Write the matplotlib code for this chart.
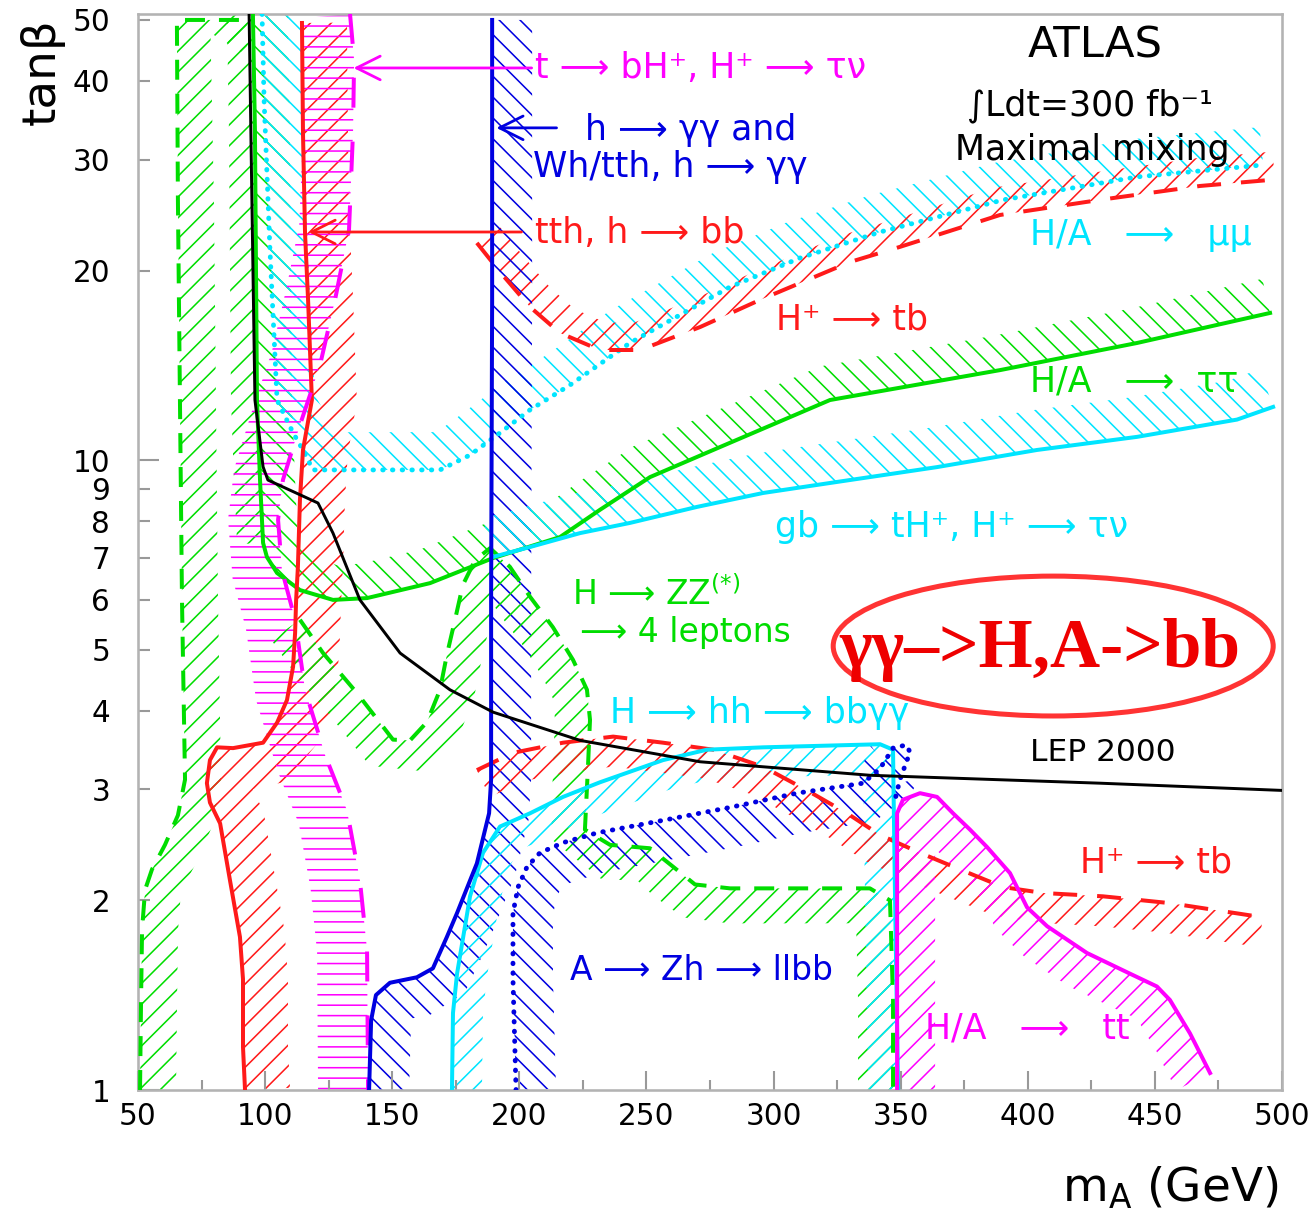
import numpy as np
import matplotlib.pyplot as plt
from matplotlib.patches import Polygon, Ellipse

plt.rcParams['font.family'] = ['DejaVu Sans']
plt.rcParams['mathtext.fontset'] = 'dejavusans'
plt.rcParams['hatch.linewidth'] = 0.9

GREEN = '#00dd00'
CYAN = '#00e5ff'
RED = '#ff1a1a'
MAGENTA = '#ff00ff'
BLUE = '#0000e0'

# all curves: m_A (GeV), tan(beta)
lep_x = [93.7, 94.8, 96.0, 99.2, 101.1, 120.8, 126.7, 137.3, 153.1, 172.7, 189.7, 223.9, 271.1, 338.0, 428.4, 500.0]
lep_y = [51.1, 25.9, 12.46, 9.76, 9.30, 8.55, 7.66, 6.0, 4.94, 4.32, 3.98, 3.59, 3.32, 3.16, 3.07, 2.99]

zz_left_x = [50.8, 51.2, 51.6, 52.8, 55.5, 60.6, 65.7, 68.5, 67.3, 66.5, 65.7, 65.3, 92.9]
zz_left_y = [1.0, 1.39, 1.80, 2.08, 2.24, 2.45, 2.73, 3.11, 6.0, 12.46, 25.9, 50.0, 50.0]

tautau_x = [95.2, 96.0, 96.8, 98.0, 99.2, 100.7, 104.7, 113.7, 126.7, 140.1, 164.9, 189.6, 216.0,
            231.7, 251.4, 278.9, 322.2, 389.1, 443.0, 495.3]
tautau_y = [51.1, 33.4, 12.46, 9.30, 7.39, 7.02, 6.62, 6.22, 6.0, 6.04, 6.38, 6.99, 7.55,
            8.34, 9.40, 10.49, 12.46, 13.9, 15.35, 17.13]

mumu_x = [98.8, 99.6, 101.9, 104.7, 111.0, 114.9, 118.8, 168.8, 180.6, 192.4, 204.2, 219.9, 243.5,
          282.9, 310.4, 341.9, 390.3, 443.0, 492.6]
mumu_y = [51.1, 37.3, 21.6, 12.46, 11.05, 10.38, 9.65, 9.65, 10.19, 11.05, 12.02, 13.16, 15.35,
          18.84, 20.94, 23.03, 25.9, 28.17, 29.43]

hptb_up_x = [183.3, 192.4, 204.2, 216.0, 231.7, 247.5, 271.1, 294.7, 330.1, 349.7, 389.1, 428.4, 467.7, 497.2]
hptb_up_y = [22.13, 19.9, 17.51, 15.92, 14.96, 14.96, 16.27, 17.97, 20.64, 21.81, 24.51, 25.9, 27.25, 27.9]

gg_x = [189.3, 189.3, 188.9, 188.9, 188.1, 183.3, 175.5, 171.5, 166.0, 159.7, 149.1, 143.6, 141.7, 140.9]
gg_y = [50.0, 17.97, 6.0, 3.11, 2.75, 2.29, 1.91, 1.75, 1.56, 1.51, 1.48, 1.415, 1.29, 1.0]

tth_x = [114.5, 114.9, 115.7, 116.9, 118.4, 114.9, 113.7, 112.9, 112.2, 111.8, 111.0, 108.6, 104.7,
         99.2, 87.4, 81.1, 78.3, 77.1, 78.3, 82.3, 86.2, 90.1, 91.3, 91.3, 92.1]
tth_y = [49.45, 33.07, 22.95, 17.97, 12.46, 10.38, 8.65, 6.77, 6.0, 5.32, 4.70, 4.16, 3.83,
         3.56, 3.49, 3.50, 3.34, 3.07, 2.86, 2.65, 2.15, 1.75, 1.50, 1.17, 1.0]

tbh_x = [133.4, 135.0, 134.6, 133.0, 127.5, 121.6, 113.7, 107.0, 105.1, 106.6, 111.8, 115.7, 123.6,
         132.2, 137.3, 140.1, 140.5]
tbh_y = [51.1, 43.2, 33.4, 23.2, 17.97, 14.16, 11.37, 9.30, 8.04, 6.69, 5.58, 4.32, 3.40,
         2.78, 2.15, 1.67, 1.0]

gb_x = [189.6, 204.2, 223.9, 243.5, 269.9, 295.9, 322.2, 364.3, 403.6, 443.0, 482.3, 496.5]
gb_y = [7.02, 7.28, 7.66, 7.95, 8.43, 8.87, 9.20, 9.75, 10.38, 10.89, 11.6, 12.15]

zz_x = [113.7, 122.8, 136.1, 150.3, 157.0, 163.7, 168.8, 171.5, 174.7, 177.8, 182.6, 188.5, 196.3,
        204.2, 213.2, 221.1, 226.6, 227.8, 227.0, 225.8, 235.7, 251.4, 261.2, 269.1, 282.9, 337.9,
        345.8, 347.0, 347.0]
zz_y = [5.58, 4.94, 4.27, 3.60, 3.59, 3.84, 4.32, 4.91, 5.58, 6.34, 6.94, 7.25, 6.77,
        6.07, 5.43, 4.82, 4.32, 3.87, 3.26, 2.59, 2.45, 2.42, 2.25, 2.12, 2.09, 2.09,
        2.0, 1.39, 1.0]

hh_x = [173.5, 173.9, 175.5, 180.6, 185.7, 192.4, 204.2, 217.2, 231.7, 256.5, 273.8, 295.9, 341.9,
        347.0, 347.2, 347.8, 349.0]
hh_y = [1.0, 1.325, 1.53, 2.03, 2.38, 2.62, 2.75, 2.92, 3.08, 3.34, 3.47, 3.50, 3.54,
        3.47, 2.99, 2.0, 1.0]

zh_x = [198.7, 197.5, 197.5, 199.5, 203.0, 208.1, 217.2, 230.6, 256.5, 282.9, 309.2, 335.2, 341.9,
        347.0, 352.1, 353.7, 349.7, 347.8]
zh_y = [1.0, 1.50, 1.91, 2.10, 2.26, 2.38, 2.47, 2.56, 2.68, 2.81, 2.96, 3.07, 3.24,
        3.49, 3.53, 3.44, 3.11, 2.89]

hptb_lo_x = [183.3, 197.5, 217.2, 236.9, 256.5, 276.2, 295.9, 313.2, 328.9, 341.9, 357.6, 373.3,
             390.3, 406.0, 429.6, 456.0, 492.5]
hptb_lo_y = [3.22, 3.43, 3.56, 3.64, 3.56, 3.47, 3.26, 2.99, 2.75, 2.54, 2.38, 2.24,
             2.10, 2.055, 2.03, 1.98, 1.88]

tt_x = [348.6, 348.6, 350.9, 357.6, 364.3, 370.6, 377.3, 384.0, 393.0, 399.7, 407.6, 423.3, 440.2,
        450.8, 455.9, 463.8, 471.7]
tt_y = [1.0, 2.75, 2.89, 2.96, 2.92, 2.75, 2.59, 2.43, 2.21, 1.95, 1.82, 1.65, 1.53,
        1.46, 1.39, 1.23, 1.064]

fig = plt.figure(figsize=(1312 / 125, 1217 / 125), dpi=125)
ax = fig.add_axes([138 / 1312, 1 - 1090 / 1217, 1144 / 1312, 1076 / 1217])
ax.set_yscale('log')
ax.set_xlim(50, 500)
ax.set_ylim(1, 51.1)


def band(xs, ys, width, hatch, color, side=1):
    # hatched strip of given pixel width along one side of a curve
    pts = ax.transData.transform(np.column_stack([xs, ys]))
    d = np.gradient(pts, axis=0)
    n = np.column_stack([d[:, 1], -d[:, 0]])
    n /= np.hypot(n[:, 0], n[:, 1])[:, None]
    off = pts + side * width * n
    poly = ax.transData.inverted().transform(np.vstack([pts, off[::-1]]))
    ax.add_patch(Polygon(poly, closed=True, facecolor='none', edgecolor=color,
                         lw=0, hatch=hatch, zorder=1))


band(zz_left_x, zz_left_y, 36, '//', GREEN, 1)
band(tautau_x[:5], tautau_y[:5], 26, '//', GREEN, 1)
band(tautau_x, tautau_y, 35, '\\\\', GREEN, -1)
band(mumu_x, mumu_y, 38, '\\\\', CYAN, -1)
band(hptb_up_x, hptb_up_y, 28, '//', RED, -1)
band(gg_x, gg_y, 40, '\\\\', BLUE, -1)
band(tth_x, tth_y, 45, '//', RED, -1)
band(tbh_x, tbh_y, 50, '--', MAGENTA, 1)
band(gb_x, gb_y, 40, '\\\\', CYAN, -1)
band(zz_x, zz_y, 35, '//', GREEN, 1)
band(hh_x, hh_y, 30, '//', CYAN, 1)
band(zh_x, zh_y, 40, '\\\\', BLUE, 1)
band(hptb_lo_x, hptb_lo_y, 30, '//', RED, 1)
band(tt_x, tt_y, 38, '//', MAGENTA, 1)

lw = 2.3
ax.plot(zz_left_x, zz_left_y, color=GREEN, lw=lw, ls=(0, (5, 3.5)), zorder=3)
ax.plot(zz_x, zz_y, color=GREEN, lw=lw, ls=(0, (5, 3.5)), zorder=3)
ax.plot(tautau_x, tautau_y, color=GREEN, lw=lw, zorder=3)
ax.plot(mumu_x, mumu_y, color=CYAN, lw=2.8, ls=(0, (0.1, 1.9)), dash_capstyle='round', zorder=3)
ax.plot(hptb_up_x, hptb_up_y, color=RED, lw=lw, ls=(0, (6, 5)), zorder=3)
ax.plot(hptb_lo_x, hptb_lo_y, color=RED, lw=lw, ls=(0, (6, 5)), zorder=3)
ax.plot(tth_x, tth_y, color=RED, lw=lw, zorder=3)
ax.plot(tbh_x, tbh_y, color=MAGENTA, lw=lw, ls=(0, (7.5, 8.5)), zorder=3)
ax.plot(gb_x, gb_y, color=CYAN, lw=lw, zorder=3)
ax.plot(hh_x, hh_y, color=CYAN, lw=lw, zorder=3)
ax.plot(zh_x, zh_y, color=BLUE, lw=2.8, ls=(0, (0.1, 1.9)), dash_capstyle='round', zorder=3)
ax.plot(tt_x, tt_y, color=MAGENTA, lw=lw, zorder=3)
ax.plot(gg_x, gg_y, color=BLUE, lw=lw, zorder=4)
ax.plot(lep_x, lep_y, color='black', lw=1.7, zorder=5)

# arrows pointing at the low-mass curves
arrow = dict(arrowstyle='->', lw=1.6, mutation_scale=34)
ax.annotate('', xy=(133.4, 41.95), xytext=(206.2, 41.95), arrowprops=dict(arrow, color=MAGENTA), zorder=6)
ax.annotate('', xy=(189.6, 33.7), xytext=(216.0, 33.7), arrowprops=dict(arrow, color=BLUE), zorder=6)
ax.annotate('', xy=(115.7, 23.03), xytext=(202.2, 23.03), arrowprops=dict(arrow, color=RED), zorder=6)

fs = 20
labels = [
    (206.2, 41.95, 't ⟶ bH⁺, H⁺ ⟶ τν', MAGENTA, fs),
    (225.8, 33.4, 'h ⟶ γγ and', BLUE, fs),
    (205.4, 29.2, 'Wh/tth, h ⟶ γγ', BLUE, fs),
    (206.2, 22.95, 'tth, h ⟶ bb', RED, fs),
    (400.9, 22.8, 'H/A   ⟶   μμ', CYAN, fs),
    (301.0, 16.7, 'H⁺ ⟶ tb', RED, fs),
    (400.9, 13.31, 'H/A   ⟶  ττ', GREEN, fs),
    (300.6, 7.83, 'gb ⟶ tH⁺, H⁺ ⟶ τν', CYAN, fs),
    (220.7, 6.12, 'H ⟶ ZZ$^{(*)}$', GREEN, 19),
    (223.9, 5.33, '⟶ 4 leptons', GREEN, 19),
    (235.7, 3.97, 'H ⟶ hh ⟶ bbγγ', CYAN, fs),
    (420.6, 2.30, 'H⁺ ⟶ tb', RED, fs),
    (219.9, 1.55, 'A ⟶ Zh ⟶ llbb', BLUE, 19),
    (359.6, 1.254, 'H/A   ⟶   tt', MAGENTA, fs),
]
for x, y, s, c, f in labels:
    ax.text(x, y, s, color=c, fontsize=f, ha='left', va='center', zorder=7)
ax.text(400.9, 3.44, 'LEP 2000', fontsize=18, ha='left', va='center', zorder=7)

ax.text(426.5, 45.6, 'ATLAS', fontsize=25, ha='center', va='center', zorder=7)
ax.text(424.5, 36.6, '∫Ldt=300 fb⁻¹', fontsize=20, ha='center', va='center', zorder=7)
ax.text(425.3, 31.1, 'Maximal mixing', fontsize=20, ha='center', va='center', zorder=7)

ax.add_patch(Ellipse((0.800, 0.4126), 0.3846, 0.130, transform=ax.transAxes,
                     facecolor='white', edgecolor='#ff3333', lw=2.9, zorder=8))
ax.text(0.788, 0.409, 'γγ–>H,A->bb', transform=ax.transAxes, family='Liberation Serif',
        fontweight='bold', fontsize=40, color='#ee0000', ha='center', va='center', zorder=9)

ax.set_xticks(np.arange(50, 501, 50))
ax.set_xticks(np.arange(75, 500, 50), minor=True)
ax.set_yticks([1, 10], ['1', '10'])
minor_y = [2, 3, 4, 5, 6, 7, 8, 9, 20, 30, 40, 50]
ax.set_yticks(minor_y, [str(v) for v in minor_y], minor=True)
ax.tick_params(which='both', direction='in', color='0.6', width=1.2, labelsize=17,
               top=False, right=False)
ax.tick_params(axis='x', which='major', length=11, pad=7)
ax.tick_params(axis='x', which='minor', length=6)
ax.tick_params(axis='y', which='major', length=12, pad=16)
ax.tick_params(axis='y', which='minor', length=7, pad=16)
for sp in ax.spines.values():
    sp.set_color('0.7')
    sp.set_linewidth(1.5)

fig.text(42 / 1312, 1 - 72 / 1217, 'tanβ', rotation=90, fontsize=27, ha='center', va='center')
fig.text(1278 / 1312, 1 - 1188 / 1217, 'm$_{\\rm A}$ (GeV)', fontsize=27, ha='right', va='center')

fig.savefig('out.png', dpi=125)
